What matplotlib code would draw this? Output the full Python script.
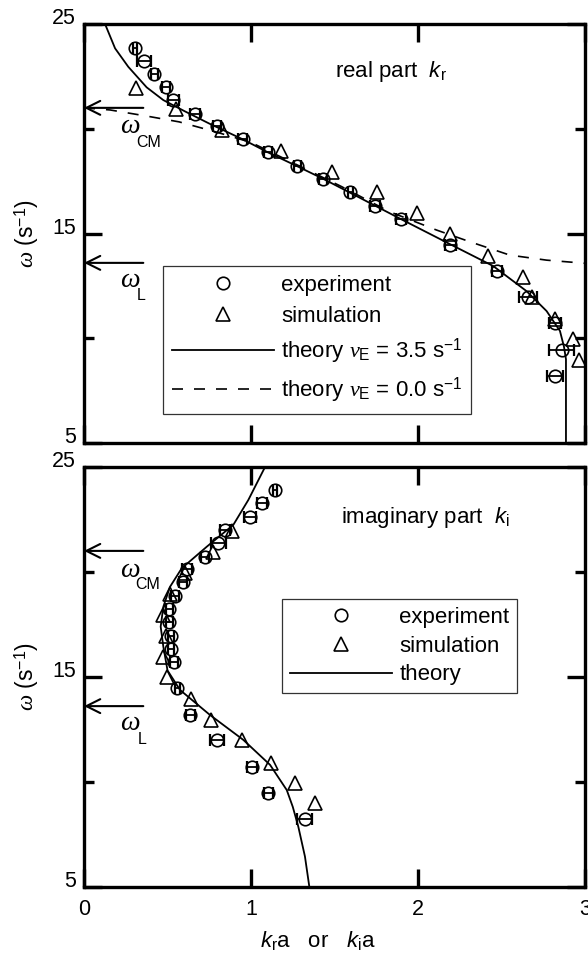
import numpy as np
import matplotlib
matplotlib.use('Agg')
import matplotlib.pyplot as plt

plt.rcParams['font.family'] = ['Liberation Sans', 'DejaVu Sans']
plt.rcParams['mathtext.fontset'] = 'custom'
plt.rcParams['mathtext.rm'] = 'Liberation Sans'
plt.rcParams['mathtext.it'] = 'Liberation Serif:italic'
plt.rcParams['mathtext.sf'] = 'Liberation Sans:italic'

# frequencies (s^-1) of the measured points, same in both panels
omega_exp = [23.88, 23.26, 22.60, 22.00, 21.36, 20.73, 20.14, 19.50, 18.87, 18.24,
             17.61, 16.96, 16.33, 15.71, 14.47, 13.20, 11.97, 10.71, 9.45, 8.21]
kr_exp = [0.305, 0.359, 0.421, 0.491, 0.535, 0.665, 0.798, 0.950, 1.100, 1.278,
          1.433, 1.593, 1.743, 1.896, 2.192, 2.471, 2.66, 2.82, 2.86, 2.82]
kr_err = [0.01, 0.04, 0.02, 0.024, 0.035, 0.028, 0.025, 0.027, 0.025, 0.02,
          0.023, 0.015, 0.032, 0.03, 0.033, 0.03, 0.053, 0.037, 0.077, 0.05]
ki_exp = [1.144, 1.064, 0.994, 0.844, 0.804, 0.725, 0.615, 0.591, 0.545, 0.511,
          0.511, 0.521, 0.521, 0.537, 0.559, 0.635, 0.798, 1.004, 1.104, 1.323]
ki_err = [0.01, 0.03, 0.035, 0.03, 0.045, 0.025, 0.03, 0.025, 0.025, 0.02,
          0.02, 0.02, 0.02, 0.025, 0.015, 0.027, 0.043, 0.03, 0.028, 0.045]

# simulation
omega_sim = [21.95, 20.95, 19.93, 18.95, 17.93, 16.96, 15.96, 14.97, 13.95, 12.94,
             11.98, 10.91, 9.95, 8.96]
kr_sim = [0.311, 0.549, 0.825, 1.180, 1.483, 1.754, 1.994, 2.192, 2.421, 2.627,
          2.68, 2.82, 2.93, 2.966]
ki_sim = [0.884, 0.774, 0.605, 0.515, 0.475, 0.49, 0.473, 0.499, 0.639, 0.759,
          0.944, 1.118, 1.265, 1.385]

# theory curves
kr_th35 = [0.126, 0.186, 0.265, 0.375, 0.475, 0.60, 0.75, 0.95, 1.10, 1.28, 1.44,
           1.60, 1.75, 1.90, 2.19, 2.45, 2.65, 2.77, 2.85, 2.874, 2.886, 2.886]
w_th35 = [25.0, 23.84, 22.96, 21.98, 21.37, 20.85, 20.25, 19.5, 18.88, 18.2, 17.58,
          16.92, 16.3, 15.68, 14.5, 13.45, 12.25, 11.3, 10.35, 9.6, 9.0, 5.0]
kr_th00 = [0.0, 0.156, 0.395, 0.57, 0.79, 1.0, 1.25, 1.54, 1.83, 2.11, 2.31, 2.55, 2.77, 3.0]
w_th00 = [21.0, 20.9, 20.58, 20.33, 19.85, 19.35, 18.38, 17.25, 16.04, 15.17, 14.61,
          13.97, 13.73, 13.58]
ki_th = [1.084, 0.984, 0.894, 0.735, 0.585, 0.515, 0.475, 0.459, 0.475, 0.50, 0.575,
         0.754, 0.954, 1.114, 1.214, 1.25, 1.283, 1.323, 1.349]
w_thi = [25.0, 23.43, 22.24, 21.20, 20.17, 19.29, 18.34, 17.39, 16.43, 15.3, 14.37,
         13.18, 11.99, 10.80, 9.60, 8.8, 7.86, 6.43, 5.0]

omega_cm = 21.0
omega_l = 13.6


def setup(ax, xlabels):
    ax.set_xlim(0, 3)
    ax.set_ylim(5, 25)
    ax.set_xticks([0, 1, 2, 3])
    ax.set_yticks([5, 15, 25])
    ax.set_yticks([10, 20], minor=True)
    ax.tick_params(which='both', direction='in', top=True, right=True, width=2.4,
                   labelsize=15.5, labelbottom=xlabels)
    ax.tick_params(which='major', length=13)
    ax.tick_params(which='minor', length=7.5)
    ax.tick_params(axis='x', pad=9)
    ax.tick_params(axis='y', pad=6)
    for s in ax.spines.values():
        s.set_linewidth(2.4)
    plt.setp(ax.get_yticklabels(), va='baseline')


def marks(ax, w, sub, wy, sx, sy):
    ax.annotate('', xy=(0, w), xytext=(0.355, w),
                arrowprops=dict(arrowstyle='->', lw=1.5, color='k', shrinkA=0,
                                shrinkB=0, mutation_scale=25))
    ax.text(0.272, wy, '\u03c9', family='Liberation Serif', style='italic',
            fontsize=20, ha='center', va='center')
    ax.text(sx, sy, sub, fontsize=11.5, ha='center', va='center')


def points(ax, kx, kerr, kx_sim):
    ax.errorbar(kx, omega_exp, xerr=kerr, fmt='none', ecolor='k', elinewidth=1.3,
                capsize=4.3, capthick=1.6)
    h1, = ax.plot(kx, omega_exp, 'o', mfc='none', mec='k', ms=9, mew=1.2)
    h2, = ax.plot(kx_sim, omega_sim, '^', mfc='none', mec='k', ms=10, mew=1.2)
    return h1, h2


fig = plt.figure(figsize=(5.88, 9.55), dpi=100)
ax1 = fig.add_axes([0.1429, 0.5361, 0.852, 0.4387])
ax2 = fig.add_axes([0.1429, 0.0717, 0.852, 0.4393])

# real part
h1, h2 = points(ax1, kr_exp, kr_err, kr_sim)
h3, = ax1.plot(kr_th35, w_th35, 'k-', lw=1.3)
h4, = ax1.plot(kr_th00, w_th00, color='k', ls=(0, (6.6, 6.6)), lw=1.2)
setup(ax1, False)
marks(ax1, omega_cm, 'CM', 20.1, 0.385, 19.36)
marks(ax1, omega_l, 'L', 12.77, 0.345, 12.05)
ax1.text(1.503, 22.46, r'real part  $\mathsf{k}_{\mathrm{r}}$', fontsize=16, va='baseline')
leg = ax1.legend([h1, h2, h3, h4],
                 ['experiment', 'simulation',
                  r'theory $\nu_{\mathrm{E}}$ = 3.5 s$^{-1}$',
                  r'theory $\nu_{\mathrm{E}}$ = 0.0 s$^{-1}$'],
                 loc='upper left', bbox_to_anchor=(0.158, 0.4224), borderaxespad=0,
                 fontsize=16, handlelength=4.6, handletextpad=0.3, labelspacing=0.44,
                 borderpad=0.4, fancybox=False, framealpha=1, edgecolor='#333',
                 numpoints=1)
leg.get_frame().set_linewidth(0.9)

# imaginary part
g1, g2 = points(ax2, ki_exp, ki_err, ki_sim)
g3, = ax2.plot(ki_th, w_thi, 'k-', lw=1.3)
setup(ax2, True)
marks(ax2, omega_cm, 'CM', 20.08, 0.38, 19.42)
marks(ax2, omega_l, 'L', 12.76, 0.346, 12.03)
ax2.text(1.539, 22.35, r'imaginary part  $\mathsf{k}_{\mathrm{i}}$', fontsize=16, va='baseline')
leg2 = ax2.legend([g1, g2, g3], ['experiment', 'simulation', 'theory'],
                  loc='upper left', bbox_to_anchor=(0.395, 0.685), borderaxespad=0,
                  fontsize=16, handlelength=4.6, handletextpad=0.33, labelspacing=0.35,
                  borderpad=0.35, fancybox=False, framealpha=1, edgecolor='#333',
                  numpoints=1)
leg2.get_frame().set_linewidth(0.9)

ylab = r'$\omega$ (s$^{-1}$)'
fig.text(0.046, 0.7555, ylab, rotation=90, ha='center', va='center', fontsize=16.5)
fig.text(0.046, 0.2916, ylab, rotation=90, ha='center', va='center', fontsize=16.5)
fig.text(0.541, 1 - 940 / 955,
         r'$\mathsf{k}_{\mathrm{r}}$a   or   $\mathsf{k}_{\mathrm{i}}$a',
         ha='center', va='center', fontsize=16)

fig.savefig('out.png', dpi=100)
